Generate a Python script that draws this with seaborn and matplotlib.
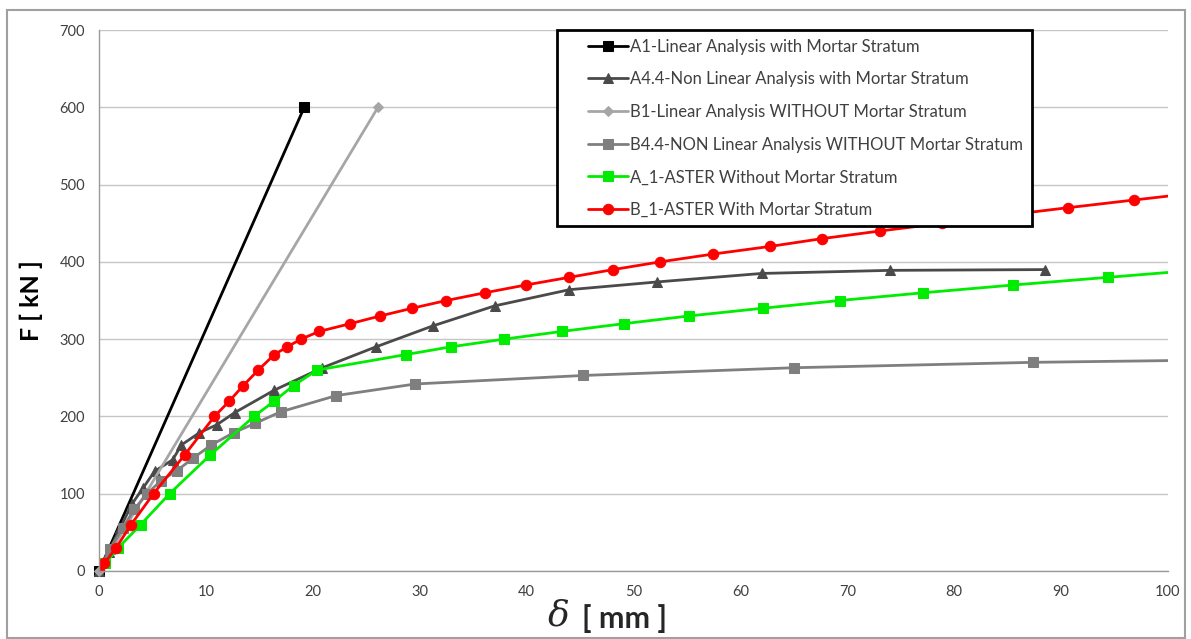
import matplotlib
matplotlib.use("Agg")
import matplotlib.pyplot as plt
import seaborn as sns
import pandas as pd
from matplotlib.patches import Rectangle

# ---------------- data ----------------
a1_x = [0, 19.2]
a1_y = [0, 600]

a44_x = [0, 0.9, 2.0, 3.1, 4.1, 5.2, 6.9, 7.7, 9.4, 11.0, 12.7, 16.4, 20.9, 25.9,
         31.2, 37.0, 44.0, 52.2, 62.0, 74.0, 88.5]
a44_y = [0, 25, 56, 87, 107, 129, 144, 163, 179, 189, 205, 234, 263, 290,
         317, 343, 364, 374, 385, 389, 390]

b1_x = [0, 26.1]
b1_y = [0, 600]

b44_x = [0, 1.0, 2.2, 3.3, 4.5, 5.8, 7.3, 8.8, 10.5, 12.6, 14.6, 17.0, 22.2, 29.6,
         45.3, 65.0, 87.4, 110.0]
b44_y = [0, 28, 55, 80, 100, 117, 130, 146, 163, 179, 191, 206, 227, 242,
         253, 263, 270, 274]

g_x = [0, 0.6, 1.8, 3.9, 6.6, 10.4, 14.5, 16.4, 18.2, 20.4, 28.7, 32.9, 37.9, 43.3,
       49.1, 55.2, 62.1, 69.3, 77.1, 85.5, 94.4, 103.3]
g_y = [0, 10, 30, 60, 100, 150, 200, 220, 240, 260, 280, 290, 300, 310,
       320, 330, 340, 350, 360, 370, 380, 390]

r_x = [0, 0.5, 1.6, 3.0, 5.1, 8.0, 10.8, 12.2, 13.5, 14.9, 16.4, 17.6, 18.9, 20.6,
       23.5, 26.3, 29.3, 32.5, 36.1, 39.9, 44.0, 48.1, 52.5, 57.4, 62.8, 67.6,
       73.1, 78.9, 84.6, 90.6, 96.8, 103.1]
r_y = [0, 10, 30, 60, 100, 150, 200, 220, 240, 260, 280, 290, 300, 310,
       320, 330, 340, 350, 360, 370, 380, 390, 400, 410, 420, 430,
       440, 450, 460, 470, 480, 490]

labels = ["A1-Linear Analysis with Mortar Stratum",
          "A4.4-Non Linear Analysis with Mortar Stratum",
          "B1-Linear Analysis WITHOUT Mortar Stratum",
          "B4.4-NON Linear Analysis WITHOUT Mortar Stratum",
          "A_1-ASTER Without Mortar Stratum",
          "B_1-ASTER With Mortar Stratum"]

x_ticks = list(range(0, 101, 10))
y_ticks = list(range(0, 701, 100))

# ---------------- style ----------------
sns.set_theme(style="white")
plt.rcParams['font.family'] = ['Lato', 'DejaVu Sans']

fig = plt.figure(figsize=(11.91, 6.39), dpi=100)
ax = fig.add_axes([99/1191, 1 - 571/639, (1168 - 99)/1191, (571 - 30)/639])

series = [
    (a1_x, a1_y, "#000000", "s", 7, True),
    (a44_x, a44_y, "#4a4a4a", "^", 7, True),
    (b1_x, b1_y, "#a6a6a6", "D", 5, True),
    (b44_x, b44_y, "#7f7f7f", "s", 6.5, False),
    (g_x, g_y, "#00ec00", "s", 6.5, False),
    (r_x, r_y, "#ff0000", "o", 7.5, False),
]

for (xs, ys, col, mk, ms, noclip), lab in zip(series, labels):
    df = pd.DataFrame({"x": xs, "y": ys})
    sns.lineplot(data=df, x="x", y="y", ax=ax, color=col, marker=mk,
                 markersize=ms, markeredgecolor=col, linewidth=2.0,
                 sort=False, estimator=None, label=lab, clip_on=not noclip)

ax.set_xlim(0, 100)
ax.set_ylim(0, 700)
ax.set_xticks(x_ticks)
ax.set_yticks(y_ticks)
ax.yaxis.grid(True, color="#c6c6c6", linewidth=1.0)
ax.xaxis.grid(False)
ax.set_axisbelow(True)
for s in ["top", "right"]:
    ax.spines[s].set_visible(False)
for s in ["left", "bottom"]:
    ax.spines[s].set_color("#9a9a9a")
    ax.spines[s].set_linewidth(1.0)
ax.tick_params(axis="both", which="major", direction="out", length=4,
               width=1, color="#9a9a9a", labelsize=10.5, labelcolor="#404040")
ax.tick_params(axis="y", pad=6)
ax.tick_params(axis="x", pad=6)
ax.set_xlabel("")
ax.set_ylabel("F [ kN ]", fontsize=18, fontweight="bold", color="#000000",
              labelpad=12)

# x label: italic delta + bold unit
ax.text(0.430, -0.083, "δ", transform=ax.transAxes, fontsize=26,
        family=["DejaVu Serif"], style="italic", ha="center", va="center")
ax.text(0.492, -0.087, "[ mm ]", transform=ax.transAxes, fontsize=22,
        fontweight="bold", ha="center", va="center")

# legend box (drawn as a frame behind a frameless legend)
ax.add_patch(Rectangle((0.4284, 0.6377), 0.8728 - 0.4284, 1.0 - 0.6377,
                       transform=ax.transAxes, facecolor="white",
                       edgecolor="#000000", linewidth=2.0, zorder=4.5,
                       clip_on=False))
leg = ax.legend(loc="upper left", bbox_to_anchor=(0.4574, 0.984), frameon=False,
                fontsize=12, handlelength=2.4, handletextpad=0.1,
                labelspacing=1.0, borderpad=0, borderaxespad=0,
                labelcolor="#404040")
leg.set_zorder(6)

# outer chart border
fig.patches.append(Rectangle((7/1191, 1/639), 1178/1191, 628/639,
                             transform=fig.transFigure, fill=False,
                             edgecolor="#a0a0a0", linewidth=1.5))

fig.savefig("out.png", dpi=100, facecolor="white")
